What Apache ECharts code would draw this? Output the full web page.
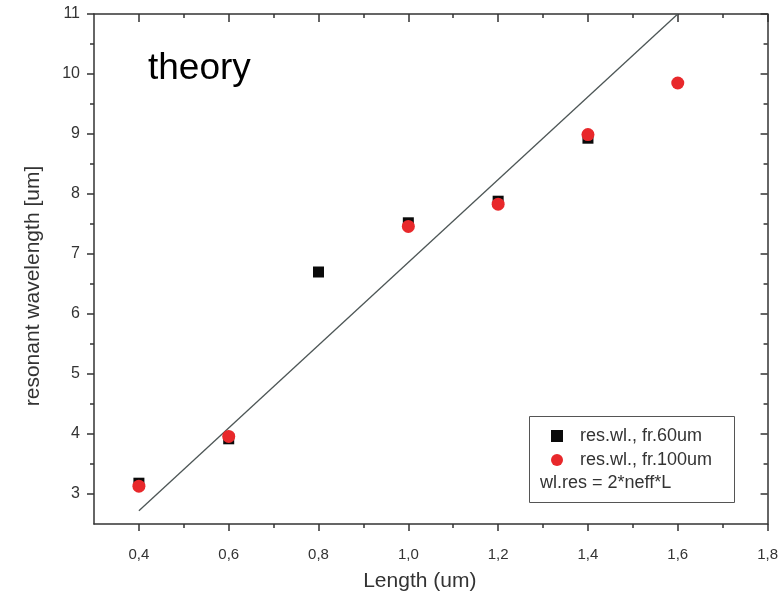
<!DOCTYPE html>
<html>
<head>
<meta charset="utf-8">
<script src="https://cdn.jsdelivr.net/npm/echarts@6/dist/echarts.min.js"></script>
<style>
  html, body { margin: 0; padding: 0; background: #fff; }
  #chart { width: 781px; height: 606px; }
</style>
</head>
<body>
<div id="chart"></div>
<script>
// Measured resonant wavelengths for two frame sizes
const lengths60 = [0.4, 0.6, 0.8, 1.0, 1.2, 1.4];
const waves60   = [3.18, 3.92, 6.70, 7.52, 7.88, 8.93];
const lengths100 = [0.4, 0.6, 1.0, 1.2, 1.4, 1.6];
const waves100   = [3.13, 3.96, 7.46, 7.83, 8.99, 9.85];
// Theoretical line wl.res = 2*neff*L
const theoryLengths = [0.4, 1.6];
const theoryWaves   = [2.72, 11.0];

// Axis ticks
const xMajorTicks = [0.4, 0.6, 0.8, 1.0, 1.2, 1.4, 1.6, 1.8];
const xMinorTicks = [0.5, 0.7, 0.9, 1.1, 1.3, 1.5, 1.7];
const yMajorTicks = [3, 4, 5, 6, 7, 8, 9, 10, 11];
const yMinorTicks = [3.5, 4.5, 5.5, 6.5, 7.5, 8.5, 9.5, 10.5];

const seriesNames = ['res.wl., fr.60um', 'res.wl., fr.100um', 'wl.res = 2*neff*L'];

const FONT = 'Liberation Sans, Arial, sans-serif';
const AXIS_COLOR = '#333';

const zip = (xs, ys) => xs.map((x, i) => [x, ys[i]]);

function makeAxis(kind, position, ticks, opts) {
  const isX = kind === 'x';
  return {
    type: 'value',
    position: position,
    min: isX ? 0.3 : 2.5,
    max: isX ? 1.8 : 11,
    splitLine: { show: false },
    axisLine: { show: opts.line, onZero: false, lineStyle: { color: AXIS_COLOR, width: 1.5 } },
    axisTick: {
      show: true,
      inside: opts.inside,
      length: opts.len,
      customValues: ticks,
      lineStyle: { color: AXIS_COLOR, width: 1.5 }
    },
    axisLabel: opts.labels ? {
      show: true,
      customValues: ticks,
      margin: opts.margin,
      color: '#333',
      fontFamily: FONT,
      fontSize: opts.fontSize,
      formatter: v => isX ? v.toFixed(1).replace('.', ',') : String(v)
    } : { show: false },
    name: opts.name || '',
    nameLocation: 'middle',
    nameGap: opts.nameGap || 0,
    nameTextStyle: { color: '#333', fontFamily: FONT, fontSize: 21, padding: opts.namePadding || 0 }
  };
}

const chart = echarts.init(document.getElementById('chart'), null, { renderer: 'canvas' });

chart.setOption({
  animation: false,
  backgroundColor: '#fff',
  grid: { left: 94, right: 13, top: 14, bottom: 82, containLabel: false },
  xAxis: [
    makeAxis('x', 'bottom', xMajorTicks, { line: true, inside: false, len: 7, labels: true, margin: 23, fontSize: 15,
      name: 'Length (um)', nameGap: 47, namePadding: [0, 22, 0, 0] }),
    makeAxis('x', 'bottom', xMinorTicks, { line: false, inside: false, len: 4, labels: false }),
    makeAxis('x', 'top', xMajorTicks, { line: true, inside: true, len: 8, labels: false }),
    makeAxis('x', 'top', xMinorTicks, { line: false, inside: true, len: 4, labels: false })
  ],
  yAxis: [
    makeAxis('y', 'left', yMajorTicks, { line: true, inside: false, len: 7, labels: true, margin: 14, fontSize: 16,
      name: 'resonant wavelength [um]', nameGap: 50, namePadding: [0, 34, 0, 0] }),
    makeAxis('y', 'left', yMinorTicks, { line: false, inside: false, len: 4, labels: false }),
    makeAxis('y', 'right', yMajorTicks, { line: true, inside: true, len: 7, labels: false }),
    makeAxis('y', 'right', yMinorTicks, { line: false, inside: true, len: 4, labels: false })
  ],
  legend: [
    {
      data: [
        { name: seriesNames[0], icon: 'rect' },
        { name: seriesNames[1], icon: 'circle' }
      ],
      orient: 'vertical',
      left: 546,
      top: 422,
      itemWidth: 12,
      itemHeight: 12,
      itemGap: 6,
      selectedMode: false,
      textStyle: { color: '#333', fontFamily: FONT, fontSize: 18, padding: [0, 0, 0, 12] }
    },
    {
      data: [{ name: seriesNames[2], icon: 'rect' }],
      left: 530,
      top: 469,
      itemWidth: 0,
      itemHeight: 0,
      selectedMode: false,
      textStyle: { color: '#333', fontFamily: FONT, fontSize: 18 }
    }
  ],
  graphic: [
    {
      type: 'rect',
      left: 527,
      top: 414,
      shape: { width: 205, height: 86 },
      style: { fill: 'none', stroke: '#555', lineWidth: 1 },
      z: 10
    },
    {
      type: 'text',
      left: 148,
      top: 50,
      style: { text: 'theory', fill: '#000', font: '37px Liberation Sans, Arial, sans-serif' },
      z: 10
    }
  ],
  series: [
    {
      name: seriesNames[2],
      type: 'line',
      xAxisIndex: 0,
      yAxisIndex: 0,
      data: zip(theoryLengths, theoryWaves),
      symbol: 'none',
      itemStyle: { color: '#4d5656' },
      lineStyle: { color: '#4d5656', width: 1.3 },
      z: 2
    },
    {
      name: seriesNames[0],
      type: 'scatter',
      xAxisIndex: 0,
      yAxisIndex: 0,
      data: zip(lengths60, waves60),
      symbol: 'rect',
      symbolSize: 11,
      itemStyle: { color: '#0a0a0a', opacity: 1 },
      z: 3
    },
    {
      name: seriesNames[1],
      type: 'scatter',
      xAxisIndex: 0,
      yAxisIndex: 0,
      data: zip(lengths100, waves100),
      symbol: 'circle',
      symbolSize: 13,
      itemStyle: { color: '#e8282b', opacity: 1 },
      z: 4
    }
  ]
});
</script>
</body>
</html>
